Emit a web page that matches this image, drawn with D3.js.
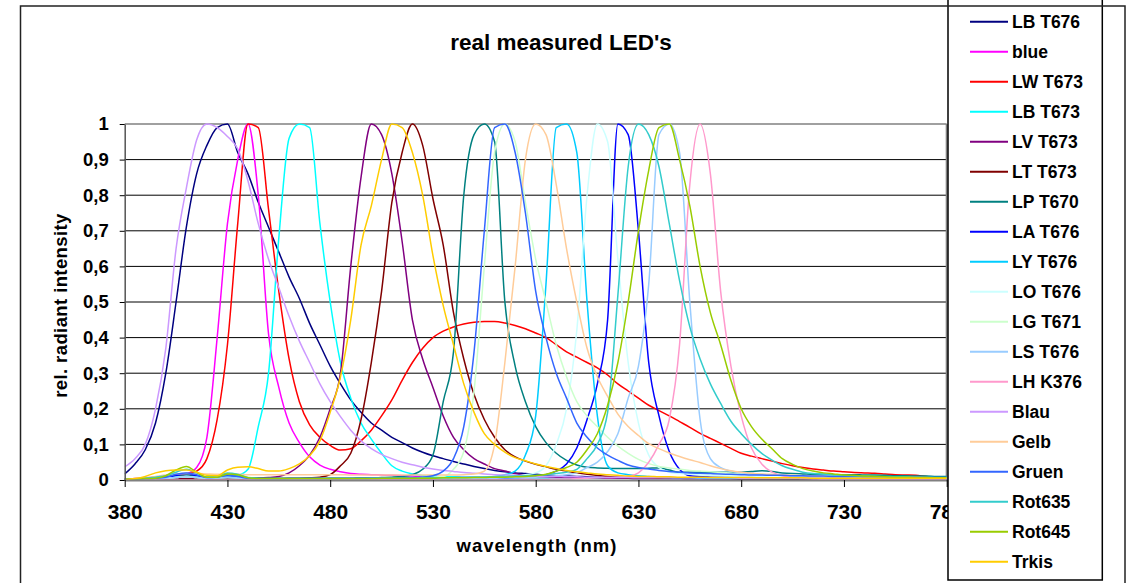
<!DOCTYPE html>
<html><head><meta charset="utf-8">
<script src="https://cdn.jsdelivr.net/npm/d3@7"></script>
<style>html,body{margin:0;padding:0;background:#fff;} svg{display:block;font-family:"Liberation Sans",Arial,sans-serif;}</style>
</head><body>
<svg id="chart" width="1131" height="583"></svg>
<script>
// ---- data ----
const wavelengths = [380,385,390,395,400,405,410,415,420,425,430,435,440,445,450,455,460,465,470,475,480,485,490,495,500,505,510,515,520,525,530,535,540,545,550,555,560,565,570,575,580,585,590,595,600,605,610,615,620,625,630,635,640,645,650,655,660,665,670,675,680,685,690,695,700,705,710,715,720,725,730,735,740,745,750,755,760,765,770,775,780];
const xTicks = [380,430,480,530,580,630,680,730,780];
const yTicks = [0,0.1,0.2,0.3,0.4,0.5,0.6,0.7,0.8,0.9,1];

const LB_T676 = [
0.017,0.045,0.085,0.16,0.30,0.50,0.71,0.86,0.94,0.99,
1.0,0.92,0.86,0.78,0.71,0.64,0.57,0.51,0.44,0.38,
0.32,0.27,0.225,0.19,0.16,0.14,0.12,0.105,0.09,0.078,
0.068,0.06,0.052,0.045,0.038,0.032,0.027,0.023,0.02,0.018,
0.016,0.014,0.012,0.011,0.01,0.009,0.008,0.008,0.007,0.007,
0.006,0.006,0.006,0.005,0.005,0.005,0.005,0.004,0.004,0.004,
0.004,0.004,0.004,0.004,0.003,0.003,0.003,0.003,0.003,0.003,
0.003,0.003,0.003,0.003,0.003,0.003,0.003,0.003,0.003,0.003,
0.003];
const blue = [
0.002,0.004,0.006,0.008,0.01,0.013,0.017,0.035,0.12,0.4,
0.72,0.9,1.0,0.8,0.41,0.26,0.16,0.105,0.065,0.042,
0.03,0.023,0.018,0.016,0.015,0.014,0.013,0.012,0.011,0.01,
0.01,0.009,0.009,0.008,0.008,0.007,0.007,0.006,0.006,0.006,
0.005,0.005,0.005,0.005,0.005,0.005,0.005,0.005,0.005,0.005,
0.004,0.004,0.004,0.004,0.004,0.004,0.004,0.004,0.004,0.004,
0.003,0.003,0.003,0.003,0.003,0.003,0.003,0.003,0.003,0.003,
0.003,0.003,0.003,0.003,0.003,0.003,0.003,0.003,0.003,0.003,
0.003];
const LW_T673 = [
0.002,0.003,0.005,0.008,0.01,0.013,0.017,0.025,0.06,0.17,
0.38,0.72,1.0,0.99,0.76,0.53,0.34,0.22,0.155,0.12,
0.097,0.084,0.088,0.11,0.14,0.18,0.225,0.28,0.33,0.37,
0.40,0.418,0.43,0.438,0.443,0.445,0.445,0.441,0.434,0.425,
0.413,0.40,0.38,0.36,0.345,0.33,0.315,0.295,0.27,0.25,
0.23,0.21,0.195,0.18,0.164,0.148,0.131,0.117,0.103,0.089,
0.075,0.067,0.06,0.053,0.046,0.04,0.035,0.031,0.028,0.025,
0.023,0.021,0.02,0.019,0.017,0.015,0.014,0.013,0.01,0.008,
0.005];
const LB_T673 = [
0.003,0.003,0.004,0.004,0.005,0.006,0.006,0.007,0.008,0.009,
0.01,0.013,0.03,0.15,0.3,0.68,0.96,1.0,0.99,0.72,
0.5,0.33,0.23,0.16,0.115,0.075,0.04,0.025,0.017,0.012,
0.01,0.009,0.009,0.008,0.008,0.007,0.007,0.006,0.006,0.006,
0.005,0.005,0.005,0.005,0.005,0.005,0.005,0.005,0.005,0.005,
0.004,0.004,0.004,0.004,0.004,0.004,0.004,0.004,0.004,0.004,
0.003,0.003,0.003,0.003,0.003,0.003,0.003,0.003,0.003,0.003,
0.003,0.003,0.003,0.003,0.003,0.003,0.003,0.003,0.003,0.003,
0.003];
const LV_T673 = [
0.002,0.002,0.003,0.003,0.003,0.004,0.004,0.004,0.005,0.005,
0.005,0.006,0.006,0.006,0.007,0.01,0.02,0.04,0.07,0.12,
0.2,0.3,0.6,0.85,1.0,0.97,0.86,0.67,0.45,0.34,
0.26,0.18,0.12,0.085,0.06,0.045,0.032,0.025,0.018,0.013,
0.01,0.009,0.008,0.007,0.007,0.006,0.006,0.005,0.005,0.005,
0.004,0.004,0.004,0.004,0.004,0.004,0.004,0.004,0.004,0.004,
0.003,0.003,0.003,0.003,0.003,0.003,0.003,0.003,0.003,0.003,
0.003,0.003,0.003,0.003,0.003,0.003,0.003,0.003,0.003,0.003,
0.003];
const LT_T673 = [
0.002,0.002,0.002,0.002,0.002,0.002,0.003,0.003,0.003,0.003,
0.003,0.003,0.003,0.004,0.004,0.004,0.005,0.005,0.006,0.008,
0.015,0.04,0.075,0.17,0.33,0.53,0.78,0.92,1.0,0.94,
0.79,0.66,0.47,0.34,0.24,0.17,0.12,0.085,0.065,0.053,
0.044,0.037,0.03,0.025,0.02,0.016,0.013,0.01,0.008,0.007,
0.006,0.006,0.005,0.005,0.005,0.004,0.004,0.004,0.004,0.004,
0.003,0.003,0.003,0.003,0.003,0.003,0.003,0.003,0.003,0.003,
0.003,0.003,0.003,0.003,0.003,0.003,0.003,0.003,0.003,0.003,
0.003];
const LP_T670 = [
0.002,0.003,0.004,0.005,0.008,0.012,0.015,0.01,0.005,0.008,
0.012,0.01,0.005,0.004,0.004,0.004,0.004,0.004,0.004,0.004,
0.005,0.005,0.005,0.006,0.006,0.007,0.008,0.01,0.015,0.03,
0.07,0.22,0.36,0.8,0.97,1.0,0.95,0.5,0.32,0.22,
0.15,0.105,0.075,0.055,0.042,0.036,0.034,0.033,0.032,0.032,
0.032,0.033,0.034,0.028,0.022,0.022,0.022,0.022,0.022,0.022,
0.022,0.024,0.026,0.024,0.02,0.018,0.017,0.016,0.016,0.015,
0.015,0.015,0.014,0.014,0.013,0.012,0.012,0.011,0.011,0.01,
0.01];
const LA_T676 = [
0.002,0.002,0.003,0.004,0.006,0.012,0.018,0.012,0.005,0.006,
0.01,0.008,0.004,0.003,0.003,0.003,0.003,0.003,0.003,0.003,
0.003,0.003,0.003,0.003,0.003,0.003,0.003,0.003,0.003,0.003,
0.003,0.003,0.004,0.004,0.004,0.005,0.005,0.006,0.007,0.008,
0.01,0.015,0.025,0.045,0.09,0.17,0.27,0.45,1.0,0.97,
0.7,0.33,0.18,0.08,0.03,0.012,0.01,0.008,0.008,0.007,
0.006,0.006,0.006,0.005,0.005,0.005,0.005,0.004,0.004,0.004,
0.004,0.004,0.004,0.003,0.003,0.003,0.003,0.003,0.003,0.003,
0.003];
const LY_T676 = [
0.002,0.002,0.003,0.004,0.005,0.008,0.01,0.008,0.005,0.006,
0.008,0.006,0.004,0.003,0.003,0.003,0.003,0.003,0.003,0.003,
0.003,0.003,0.003,0.003,0.003,0.003,0.003,0.003,0.003,0.003,
0.003,0.004,0.004,0.005,0.006,0.008,0.01,0.015,0.025,0.07,
0.18,0.55,0.99,1.0,0.92,0.5,0.18,0.04,0.02,0.015,
0.012,0.01,0.008,0.007,0.006,0.006,0.005,0.005,0.005,0.005,
0.004,0.004,0.004,0.004,0.004,0.004,0.004,0.004,0.004,0.004,
0.003,0.003,0.003,0.003,0.003,0.003,0.003,0.003,0.003,0.003,
0.003];
const LO_T676 = [
0.002,0.002,0.003,0.004,0.005,0.007,0.009,0.007,0.005,0.006,
0.007,0.006,0.004,0.003,0.003,0.003,0.003,0.003,0.003,0.003,
0.003,0.003,0.003,0.003,0.003,0.003,0.003,0.003,0.003,0.003,
0.003,0.003,0.004,0.004,0.004,0.005,0.006,0.008,0.01,0.015,
0.02,0.04,0.1,0.2,0.42,0.8,1.0,0.95,0.62,0.33,
0.16,0.07,0.035,0.022,0.018,0.016,0.014,0.013,0.012,0.011,
0.01,0.009,0.009,0.008,0.008,0.007,0.007,0.006,0.006,0.006,
0.005,0.005,0.005,0.005,0.005,0.005,0.005,0.005,0.005,0.005,
0.005];
const LG_T671 = [
0.002,0.002,0.003,0.004,0.005,0.007,0.009,0.007,0.005,0.006,
0.007,0.006,0.004,0.003,0.003,0.003,0.003,0.003,0.003,0.003,
0.003,0.003,0.003,0.004,0.004,0.004,0.005,0.005,0.006,0.007,
0.008,0.01,0.03,0.08,0.25,0.6,0.92,1.0,0.95,0.78,
0.62,0.5,0.38,0.29,0.22,0.18,0.15,0.12,0.095,0.075,
0.058,0.046,0.038,0.034,0.03,0.027,0.025,0.023,0.021,0.02,
0.018,0.017,0.016,0.015,0.014,0.013,0.012,0.011,0.01,0.01,
0.009,0.009,0.008,0.008,0.007,0.007,0.007,0.006,0.006,0.006,
0.006];
const LS_T676 = [
0.002,0.002,0.003,0.004,0.005,0.007,0.009,0.007,0.005,0.006,
0.007,0.006,0.004,0.003,0.003,0.003,0.003,0.003,0.003,0.003,
0.003,0.003,0.003,0.003,0.003,0.003,0.003,0.003,0.003,0.003,
0.003,0.003,0.004,0.004,0.004,0.005,0.005,0.006,0.006,0.007,
0.008,0.01,0.012,0.015,0.02,0.035,0.05,0.08,0.13,0.23,
0.32,0.55,0.97,1.0,0.92,0.5,0.17,0.06,0.035,0.025,
0.02,0.017,0.015,0.014,0.012,0.011,0.01,0.009,0.009,0.008,
0.008,0.007,0.007,0.007,0.006,0.006,0.006,0.006,0.005,0.005,
0.005];
const LH_K376 = [
0,0,0,0,0,0,0,0,0,0,
0,0,0,0,0,0,0,0,0,0,
0,0,0,0,0,0,0,0,0,0,
0,0,0,0,0,0.001,0.001,0.001,0.001,0.002,
0.002,0.002,0.003,0.003,0.004,0.005,0.006,0.007,0.008,0.01,
0.02,0.05,0.1,0.17,0.38,0.83,1.0,0.86,0.53,0.32,
0.18,0.09,0.045,0.022,0.012,0.006,0.004,0.003,0.002,0.002,
0.001,0.001,0.001,0.001,0.001,0.001,0.001,0.001,0.001,0.001,
0.001];
const Blau = [
0.037,0.06,0.1,0.2,0.37,0.65,0.82,0.955,1.0,0.99,
0.965,0.93,0.84,0.72,0.62,0.54,0.46,0.39,0.33,0.27,
0.22,0.178,0.14,0.11,0.088,0.072,0.06,0.05,0.043,0.036,
0.031,0.027,0.024,0.021,0.019,0.017,0.015,0.014,0.013,0.012,
0.011,0.01,0.01,0.009,0.009,0.008,0.008,0.007,0.007,0.007,
0.006,0.006,0.006,0.006,0.006,0.006,0.006,0.006,0.006,0.006,
0.005,0.005,0.005,0.005,0.005,0.005,0.005,0.005,0.005,0.005,
0.004,0.004,0.004,0.004,0.004,0.004,0.004,0.004,0.004,0.004,
0.004];
const Gelb = [
0.002,0.004,0.006,0.01,0.014,0.017,0.018,0.018,0.017,0.016,
0.016,0.016,0.015,0.015,0.015,0.015,0.015,0.015,0.015,0.015,
0.015,0.015,0.014,0.014,0.014,0.014,0.014,0.014,0.014,0.014,
0.014,0.014,0.014,0.015,0.017,0.025,0.1,0.33,0.6,0.9,
1.0,0.97,0.83,0.65,0.5,0.37,0.29,0.235,0.185,0.15,
0.125,0.102,0.088,0.076,0.066,0.057,0.049,0.04,0.032,0.026,
0.022,0.019,0.017,0.016,0.014,0.013,0.012,0.011,0.011,0.01,
0.01,0.009,0.009,0.008,0.008,0.008,0.007,0.007,0.006,0.006,
0.006];
const Gruen = [
0.002,0.003,0.004,0.005,0.008,0.016,0.02,0.015,0.007,0.008,
0.014,0.01,0.005,0.004,0.004,0.004,0.005,0.005,0.005,0.005,
0.005,0.005,0.005,0.005,0.006,0.006,0.006,0.007,0.007,0.008,
0.012,0.025,0.06,0.15,0.36,0.7,0.99,1.0,0.92,0.75,
0.53,0.4,0.3,0.23,0.16,0.12,0.09,0.07,0.055,0.042,
0.035,0.031,0.027,0.024,0.022,0.02,0.019,0.018,0.017,0.016,
0.015,0.014,0.014,0.013,0.013,0.012,0.012,0.011,0.011,0.01,
0.01,0.01,0.009,0.009,0.009,0.008,0.008,0.008,0.007,0.007,
0.007];
const Rot635 = [
0.002,0.003,0.005,0.008,0.012,0.022,0.03,0.02,0.008,0.01,
0.02,0.016,0.007,0.005,0.004,0.004,0.004,0.004,0.004,0.004,
0.004,0.004,0.004,0.004,0.005,0.005,0.005,0.005,0.005,0.006,
0.006,0.006,0.007,0.007,0.008,0.008,0.009,0.01,0.011,0.012,
0.013,0.015,0.018,0.022,0.03,0.06,0.1,0.19,0.52,0.88,
1.0,0.97,0.88,0.72,0.56,0.43,0.34,0.27,0.215,0.165,
0.13,0.1,0.075,0.056,0.04,0.03,0.022,0.018,0.016,0.014,
0.013,0.012,0.011,0.01,0.01,0.009,0.009,0.008,0.008,0.007,
0.007];
const Rot645 = [
0.002,0.003,0.004,0.005,0.012,0.028,0.038,0.022,0.008,0.008,
0.017,0.015,0.006,0.004,0.004,0.004,0.004,0.004,0.004,0.004,
0.004,0.004,0.004,0.004,0.004,0.005,0.005,0.005,0.005,0.005,
0.005,0.006,0.006,0.006,0.007,0.007,0.008,0.008,0.009,0.01,
0.012,0.016,0.025,0.035,0.05,0.085,0.13,0.21,0.33,0.5,
0.7,0.87,0.99,1.0,0.9,0.77,0.6,0.47,0.38,0.28,
0.2,0.15,0.115,0.088,0.06,0.044,0.032,0.025,0.02,0.017,
0.014,0.013,0.011,0.01,0.009,0.008,0.008,0.007,0.007,0.006,
0.006];
const Trkis = [
0.001,0.004,0.01,0.02,0.026,0.028,0.028,0.022,0.013,0.012,
0.028,0.036,0.037,0.032,0.025,0.025,0.032,0.045,0.068,0.11,
0.19,0.29,0.45,0.66,0.77,0.9,1.0,0.99,0.92,0.8,
0.63,0.49,0.38,0.27,0.19,0.13,0.1,0.078,0.063,0.054,
0.045,0.038,0.032,0.027,0.023,0.02,0.017,0.015,0.013,0.011,
0.01,0.01,0.009,0.009,0.008,0.008,0.008,0.007,0.007,0.007,
0.007,0.007,0.006,0.006,0.006,0.006,0.006,0.005,0.005,0.005,
0.005,0.005,0.005,0.005,0.005,0.005,0.005,0.005,0.005,0.005,
0.005];

const seriesNames = ["LB T676","blue","LW T673","LB T673","LV T673","LT T673","LP T670","LA T676","LY T676","LO T676","LG T671","LS T676","LH K376","Blau","Gelb","Gruen","Rot635","Rot645","Trkis"];
const seriesValues = [LB_T676, blue, LW_T673, LB_T673, LV_T673, LT_T673, LP_T670, LA_T676, LY_T676, LO_T676, LG_T671, LS_T676, LH_K376, Blau, Gelb, Gruen, Rot635, Rot645, Trkis];
const seriesColors = ["#000080","#FF00FF","#FF0000","#00FFFF","#800080","#800000","#008080","#0000FF","#00CCFF","#CCFFFF","#CCFFCC","#99CCFF","#FF99CC","#CC99FF","#FFCC99","#3366FF","#33CCCC","#99CC00","#FFCC00"];

// ---- layout ----
const svg = d3.select("#chart");
const X0 = 124.7, X1 = 946.7, Y0 = 480, Y1 = 124;
const x = d3.scaleLinear().domain([380, 780]).range([X0, X1]);
const y = d3.scaleLinear().domain([0, 1]).range([Y0, Y1]);

svg.append("rect").attr("width", 1131).attr("height", 583).attr("fill", "#fff");

// gridlines
svg.append("g").selectAll("line").data(yTicks.filter(d => d > 0 && d < 1)).join("line")
  .attr("x1", X0).attr("x2", X1).attr("y1", d => y(d)).attr("y2", d => y(d))
  .attr("stroke", "#000").attr("stroke-width", 1);

// plot border top / right
svg.append("line").attr("x1", X0).attr("x2", X1).attr("y1", Y1).attr("y2", Y1).attr("stroke", "#808080").attr("stroke-width", 1.5);
svg.append("line").attr("x1", X1).attr("x2", X1).attr("y1", Y1).attr("y2", Y0).attr("stroke", "#808080").attr("stroke-width", 2);

// clip
svg.append("clipPath").attr("id", "plotclip").append("rect")
  .attr("x", X0).attr("y", Y1 - 1).attr("width", X1 - X0).attr("height", Y0 - Y1 + 2);

const line = d3.line().x((d, i) => x(wavelengths[i])).y(d => y(d)).curve(d3.curveMonotoneX);
svg.append("g").attr("clip-path", "url(#plotclip)").selectAll("path").data(seriesValues).join("path")
  .attr("d", d => line(d)).attr("fill", "none")
  .attr("stroke", (d, i) => seriesColors[i]).attr("stroke-width", 1.5).attr("stroke-linejoin", "round");

// axes
const fmt = d => d === 0 ? "0" : d === 1 ? "1" : d.toFixed(1).replace(".", ",");
const gy = svg.append("g").attr("transform", `translate(${X0},0)`)
  .call(d3.axisLeft(y).tickValues(yTicks).tickFormat(fmt).tickSizeInner(5).tickSizeOuter(0).tickPadding(11));
gy.select(".domain").attr("stroke", "#555").attr("stroke-width", 1.5);
gy.selectAll(".tick line").attr("stroke", "#000");
gy.selectAll("text").attr("font-size", "18.5px").attr("font-weight", "bold").attr("fill", "#000")
  .attr("font-family", '"Liberation Sans",Arial,sans-serif');

const gx = svg.append("g").attr("transform", `translate(0,${Y0})`)
  .call(d3.axisBottom(x).tickValues(xTicks).tickFormat(d => d).tickSizeInner(7).tickSizeOuter(0).tickPadding(17));
gx.select(".domain").attr("stroke", "#808080").attr("stroke-width", 2);
gx.selectAll(".tick line").attr("stroke", "#000");
gx.selectAll("text").attr("font-size", "21px").attr("font-weight", "bold").attr("fill", "#000")
  .attr("font-family", '"Liberation Sans",Arial,sans-serif');

// titles
svg.append("text").attr("x", 561).attr("y", 49.5).attr("text-anchor", "middle")
  .attr("font-size", "22.5px").attr("font-weight", "bold").text("real measured LED's");
svg.append("text").attr("x", 537).attr("y", 551.5).attr("text-anchor", "middle")
  .attr("font-size", "18.5px").attr("font-weight", "bold").attr("letter-spacing", "1px").text("wavelength (nm)");
svg.append("text").attr("transform", "translate(67,305.5) rotate(-90)").attr("text-anchor", "middle")
  .attr("font-size", "18.5px").attr("font-weight", "bold").attr("letter-spacing", "0.4px").text("rel. radiant intensity");

// legend
svg.append("rect").attr("x", 948).attr("y", -5).attr("width", 154.3).attr("height", 585)
  .attr("fill", "#fff").attr("stroke", "#000").attr("stroke-width", 1.5);
const lg = svg.append("g").selectAll("g").data(seriesNames).join("g")
  .attr("transform", (d, i) => `translate(0,${21.7 + 30 * i})`);
lg.append("line").attr("x1", 970).attr("x2", 1008).attr("y1", 0).attr("y2", 0)
  .attr("stroke", (d, i) => seriesColors[i]).attr("stroke-width", 2);
lg.append("text").attr("x", 1012).attr("y", 6.3).attr("font-size", "17.5px").attr("font-weight", "bold").text(d => d);

// outer chart frame
svg.append("rect").attr("x", 20.5).attr("y", 6).attr("width", 1104.5).attr("height", 620)
  .attr("fill", "none").attr("stroke", "#222").attr("stroke-width", 1.5);
</script>
</body></html>
